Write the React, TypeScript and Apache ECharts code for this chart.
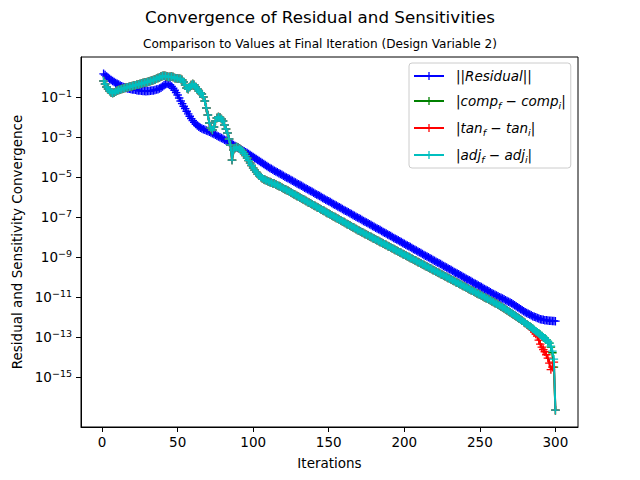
import React, { useEffect, useRef } from "react";
import * as echarts from "echarts";

// Iteration numbers (x) and log10 of each convergence measure (y).
const iterations: number[] = Array.from({ length: 300 }, (_, i) => i + 1);

const residualLog10: number[] = [
  0.16, 0.10, 0.02, -0.04, -0.10, -0.15, -0.20, -0.25, -0.30, -0.34,
  -0.38, -0.42, -0.46, -0.50, -0.52, -0.55, -0.57, -0.59, -0.60, -0.62,
  -0.63, -0.64, -0.66, -0.67, -0.68, -0.69, -0.70, -0.70, -0.71, -0.70,
  -0.70, -0.69, -0.68, -0.67, -0.65, -0.63, -0.61, -0.58, -0.54, -0.48,
  -0.41, -0.36, -0.34, -0.35, -0.40, -0.47, -0.56, -0.66, -0.78, -0.90,
  -1.05, -1.20, -1.33, -1.46, -1.58, -1.71, -1.84, -1.96, -2.08, -2.18,
  -2.27, -2.35, -2.42, -2.48, -2.53, -2.57, -2.61, -2.64, -2.67, -2.70,
  -2.73, -2.77, -2.81, -2.85, -2.89, -2.93, -2.97, -3.01, -3.05, -3.09,
  -3.13, -3.17, -3.21, -3.25, -3.30, -3.35, -3.40, -3.45, -3.50, -3.55,
  -3.59, -3.63, -3.67, -3.71, -3.76, -3.80, -3.85, -3.90, -3.95, -4.00,
  -4.05, -4.10, -4.15, -4.20, -4.25, -4.30, -4.35, -4.40, -4.45, -4.50,
  -4.55, -4.59, -4.63, -4.68, -4.72, -4.76, -4.81, -4.85, -4.89, -4.93,
  -4.98, -5.02, -5.06, -5.10, -5.15, -5.19, -5.23, -5.27, -5.32, -5.36,
  -5.40, -5.44, -5.49, -5.53, -5.57, -5.61, -5.66, -5.70, -5.74, -5.78,
  -5.83, -5.87, -5.91, -5.95, -6.00, -6.04, -6.08, -6.13, -6.17, -6.21,
  -6.25, -6.30, -6.34, -6.38, -6.42, -6.47, -6.51, -6.55, -6.59, -6.64,
  -6.68, -6.72, -6.76, -6.81, -6.85, -6.89, -6.93, -6.98, -7.02, -7.06,
  -7.10, -7.14, -7.19, -7.23, -7.27, -7.31, -7.36, -7.40, -7.44, -7.48,
  -7.53, -7.57, -7.61, -7.65, -7.70, -7.74, -7.78, -7.82, -7.87, -7.91,
  -7.95, -7.99, -8.04, -8.08, -8.12, -8.16, -8.21, -8.25, -8.29, -8.33,
  -8.38, -8.42, -8.46, -8.50, -8.55, -8.59, -8.63, -8.67, -8.72, -8.76,
  -8.80, -8.84, -8.89, -8.93, -8.97, -9.01, -9.06, -9.10, -9.14, -9.18,
  -9.23, -9.27, -9.31, -9.35, -9.40, -9.44, -9.48, -9.52, -9.57, -9.61,
  -9.65, -9.69, -9.74, -9.78, -9.82, -9.86, -9.91, -9.95, -9.99, -10.03,
  -10.08, -10.12, -10.16, -10.20, -10.25, -10.29, -10.33, -10.37, -10.42, -10.46,
  -10.50, -10.54, -10.59, -10.63, -10.67, -10.71, -10.76, -10.80, -10.84, -10.88,
  -10.92, -10.96, -11.00, -11.03, -11.07, -11.11, -11.15, -11.19, -11.23, -11.27,
  -11.31, -11.35, -11.40, -11.45, -11.50, -11.55, -11.60, -11.65, -11.70, -11.75,
  -11.79, -11.83, -11.87, -11.91, -11.95, -11.98, -12.01, -12.04, -12.07, -12.10,
  -12.12, -12.13, -12.15, -12.16, -12.17, -12.18, -12.18, -12.19, -12.19, -12.20,
];

const adjLog10: number[] = [
  -0.20, -0.35, -0.50, -0.60, -0.70, -0.78, -0.80, -0.78, -0.72, -0.68,
  -0.65, -0.62, -0.60, -0.57, -0.55, -0.53, -0.51, -0.49, -0.47, -0.45,
  -0.43, -0.41, -0.39, -0.37, -0.35, -0.33, -0.30, -0.28, -0.27, -0.25,
  -0.22, -0.20, -0.17, -0.15, -0.12, -0.09, -0.05, -0.02, 0.02, 0.05,
  0.06, 0.05, 0.02, 0.00, 0.01, 0.02, 0.00, -0.05, -0.06, -0.08,
  -0.09, -0.10, -0.15, -0.25, -0.40, -0.55, -0.60, -0.50, -0.40, -0.35,
  -0.40, -0.50, -0.60, -0.70, -0.78, -0.85, -1.00, -1.20, -1.55, -1.90,
  -2.30, -2.55, -2.65, -2.50, -2.20, -2.05, -2.00, -2.02, -2.10, -2.20,
  -2.40, -2.60, -2.80, -3.10, -3.40, -4.15, -3.65, -3.55, -3.50, -3.52,
  -3.58, -3.65, -3.72, -3.82, -3.93, -4.05, -4.18, -4.30, -4.42, -4.55,
  -4.65, -4.75, -4.85, -4.93, -5.00, -5.06, -5.11, -5.15, -5.19, -5.22,
  -5.25, -5.28, -5.31, -5.34, -5.37, -5.41, -5.45, -5.49, -5.53, -5.57,
  -5.61, -5.65, -5.69, -5.73, -5.77, -5.81, -5.86, -5.90, -5.94, -5.98,
  -6.03, -6.07, -6.11, -6.15, -6.20, -6.24, -6.28, -6.32, -6.36, -6.41,
  -6.45, -6.49, -6.53, -6.58, -6.62, -6.66, -6.70, -6.75, -6.79, -6.83,
  -6.87, -6.92, -6.96, -7.00, -7.04, -7.08, -7.13, -7.17, -7.21, -7.25,
  -7.30, -7.34, -7.38, -7.42, -7.47, -7.51, -7.55, -7.59, -7.64, -7.68,
  -7.72, -7.76, -7.80, -7.84, -7.88, -7.92, -7.96, -8.00, -8.04, -8.08,
  -8.12, -8.16, -8.20, -8.24, -8.28, -8.32, -8.36, -8.40, -8.44, -8.48,
  -8.52, -8.56, -8.60, -8.64, -8.68, -8.72, -8.76, -8.80, -8.84, -8.88,
  -8.92, -8.96, -9.00, -9.04, -9.08, -9.12, -9.16, -9.20, -9.24, -9.28,
  -9.32, -9.36, -9.40, -9.44, -9.48, -9.52, -9.56, -9.60, -9.64, -9.68,
  -9.72, -9.76, -9.80, -9.84, -9.88, -9.92, -9.96, -10.00, -10.04, -10.08,
  -10.12, -10.16, -10.20, -10.24, -10.28, -10.32, -10.36, -10.40, -10.44, -10.48,
  -10.52, -10.56, -10.60, -10.64, -10.68, -10.72, -10.76, -10.80, -10.84, -10.88,
  -10.92, -10.96, -11.00, -11.04, -11.08, -11.12, -11.16, -11.20, -11.24, -11.29,
  -11.33, -11.38, -11.42, -11.47, -11.51, -11.56, -11.60, -11.65, -11.70, -11.75,
  -11.80, -11.85, -11.91, -11.96, -12.02, -12.07, -12.13, -12.18, -12.24, -12.29,
  -12.35, -12.40, -12.46, -12.52, -12.58, -12.64, -12.70, -12.76, -12.82, -12.88,
  -12.94, -13.00, -13.06, -13.13, -13.21, -13.30, -13.45, -13.70, -14.10, -16.65,
];

// |comp_f - comp_i| coincides with the adjoint curve except at its last iterations
const compTailStart = 297;
const compTailLog10: number[] = [-13.5, -13.78, -14.5, -16.65];

// |tan_f - tan_i| coincides with the adjoint curve except at its last iterations
const tanTailStart = 283;
const tanTailLog10: number[] = [
  -12.48, -12.56, -12.65, -12.74, -12.84, -12.95, -13.15, -13.35, -13.5,
  -13.62, -13.73, -13.88, -14.05, -14.3, -14.62, -14.5, -14.25, -16.65,
];

const xTicks: number[] = [0, 50, 100, 150, 200, 250, 300];
const yTickExponents: number[] = [-15, -13, -11, -9, -7, -5, -3, -1];

const seriesNames: string[] = [
  "||Residual||",
  "|comp_f − comp_i|",
  "|tan_f − tan_i|",
  "|adj_f − adj_i|",
];
const legendRich: string[] = [
  "{n|||}{it|Residual}{n|||}",
  "{n||}{it|comp}{sub|f}{n| − }{it|comp}{sub|i}{n||}",
  "{n||}{it|tan}{sub|f}{n| − }{it|tan}{sub|i}{n||}",
  "{n||}{it|adj}{sub|f}{n| − }{it|adj}{sub|i}{n||}",
];
const colors: string[] = ["#0000ff", "#008000", "#ff0000", "#00bfbf"];

const FONT = "DejaVu Sans";
const PLUS =
  "path://M4.2,0H5.8V4.2H10V5.8H5.8V10H4.2V5.8H0V4.2H4.2Z";

function withTail(base: number[], start: number, tail: number[]): number[] {
  const out = base.slice();
  tail.forEach((v, k) => {
    out[start - 1 + k] = v;
  });
  return out;
}

export default function App() {
  const ref = useRef<HTMLDivElement>(null);

  useEffect(() => {
    if (!ref.current) return;
    const chart = echarts.init(ref.current, undefined, { renderer: "svg" });

    const compLog10 = withTail(adjLog10, compTailStart, compTailLog10);
    const tanLog10 = withTail(adjLog10, tanTailStart, tanTailLog10);
    const all = [residualLog10, compLog10, tanLog10, adjLog10];

    const series = all.map((vals, s) => ({
      name: seriesNames[s],
      type: "line",
      data: iterations.map((it, i) => [it, vals[i]]),
      symbol: PLUS,
      symbolSize: 8.5,
      showAllSymbol: true,
      color: colors[s],
      itemStyle: { color: colors[s] },
      lineStyle: { color: colors[s], width: 2 },
      emphasis: { disabled: true },
      z: 2 + s,
    }));

    const legendMap: Record<string, string> = {};
    seriesNames.forEach((n, i) => (legendMap[n] = legendRich[i]));

    chart.setOption({
      animation: false,
      backgroundColor: "#ffffff",
      title: [
        {
          text: "Convergence of Residual and Sensitivities",
          left: "center",
          top: 8,
          padding: 0,
          textStyle: { fontFamily: FONT, fontSize: 16.7, fontWeight: "normal", color: "#000" },
        },
        {
          text: "Comparison to Values at Final Iteration (Design Variable 2)",
          left: "center",
          top: 38,
          padding: 0,
          textStyle: { fontFamily: FONT, fontSize: 12.1, fontWeight: "normal", color: "#000" },
        },
      ],
      grid: {
        left: 81,
        right: 62,
        top: 57,
        bottom: 53,
        show: true,
        borderColor: "#000",
        borderWidth: 1,
        backgroundColor: "transparent",
      },
      legend: {
        data: seriesNames,
        orient: "vertical",
        left: 409,
        top: 63,
        padding: [6, 5, 4, 4],
        itemWidth: 30,
        itemHeight: 10,
        itemGap: 11,
        backgroundColor: "rgba(255,255,255,0.8)",
        borderColor: "#cccccc",
        borderWidth: 1,
        borderRadius: 3,
        formatter: (name: string) => legendMap[name] || name,
        textStyle: {
          fontFamily: FONT,
          fontSize: 13.5,
          color: "#000",
          padding: [0, 0, 0, 7],
          rich: {
            n: { fontFamily: FONT, fontSize: 13.5, lineHeight: 18, color: "#000" },
            it: { fontFamily: FONT, fontSize: 13.5, fontStyle: "italic", lineHeight: 18, color: "#000" },
            sub: {
              fontFamily: FONT,
              fontSize: 9.5,
              fontStyle: "italic",
              lineHeight: 11,
              verticalAlign: "bottom",
              color: "#000",
            },
          },
        },
      },
      xAxis: {
        type: "value",
        min: -13.95,
        max: 314.95,
        name: "Iterations",
        nameLocation: "middle",
        nameGap: 29,
        nameTextStyle: { fontFamily: FONT, fontSize: 13.5, color: "#000" },
        axisLine: { show: true, onZero: false, lineStyle: { color: "#000", width: 1 } },
        axisTick: { show: true, length: 5, customValues: xTicks, lineStyle: { color: "#000" } },
        axisLabel: {
          customValues: xTicks,
          margin: 8,
          fontFamily: FONT,
          fontSize: 13.5,
          color: "#000",
        },
        splitLine: { show: false },
      },
      yAxis: {
        type: "value",
        min: -17.49,
        max: 1.0,
        name: "Residual and Sensitivity Convergence",
        nameLocation: "middle",
        nameGap: 56,
        nameTextStyle: { fontFamily: FONT, fontSize: 13.5, color: "#000" },
        axisLine: { show: true, onZero: false, lineStyle: { color: "#000", width: 1 } },
        axisTick: { show: true, length: 5, customValues: yTickExponents, lineStyle: { color: "#000" } },
        axisLabel: {
          customValues: yTickExponents,
          margin: 9,
          formatter: (v: number) => `{b|10}{s|−${Math.abs(v)}}`,
          rich: {
            b: { fontFamily: FONT, fontSize: 13.5, lineHeight: 17, color: "#000" },
            s: { fontFamily: FONT, fontSize: 9.5, lineHeight: 10, verticalAlign: "top", color: "#000" },
          },
        },
        splitLine: { show: false },
      },
      series,
    });

    return () => chart.dispose();
  }, []);

  return (
    <div
      ref={ref}
      style={{ position: "fixed", left: 0, top: 0, width: 640, height: 480 }}
    />
  );
}
